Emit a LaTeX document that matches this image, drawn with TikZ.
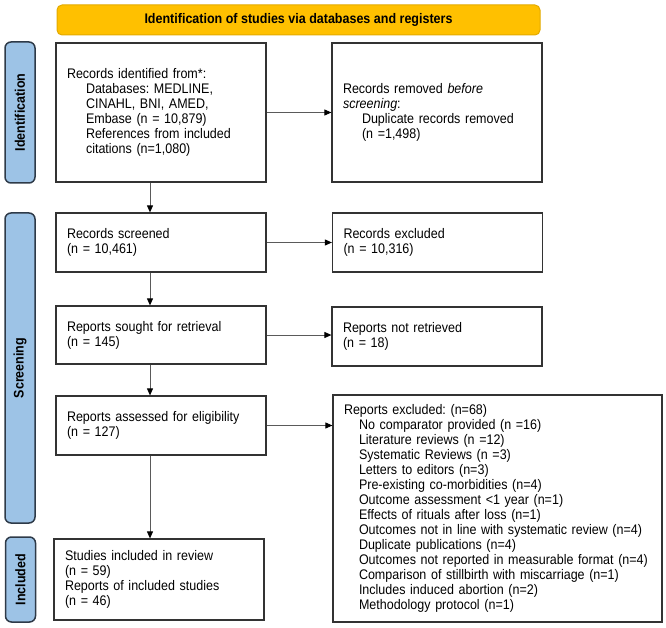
\documentclass[tikz,border=0pt]{standalone}
\usepackage{fontspec}
\setmainfont{Liberation Sans}[FakeStretch=0.9]
\usepackage{graphicx}
\usetikzlibrary{arrows.meta}
\definecolor{hdrfill}{HTML}{FFC000}
\definecolor{hdrline}{HTML}{E3AA00}
\definecolor{barfill}{HTML}{9DC3E6}
\definecolor{barline}{HTML}{2E3A48}
\definecolor{boxline}{HTML}{333333}
\definecolor{arrline}{HTML}{5A5A5A}
\newcommand{\ind}{\hspace*{19pt}}
\newcommand{\indx}{\hspace*{15pt}}
\frenchspacing

\begin{document}
\begin{tikzpicture}[x=1pt,y=-1pt,
	every node/.style={font=\fontsize{13.9}{15}\selectfont},
	box/.style={draw=boxline, line width=1.2pt, align=left, inner xsep=11pt, inner ysep=0pt, text width=188pt},
	stage/.style={draw=barline, fill=barfill, line width=1.5pt, rounded corners=6pt, minimum width=30pt, inner sep=0pt, font=\bfseries\fontsize{13.9}{15}\selectfont},
	arr/.style={draw=arrline, line width=0.9pt, -{Triangle[length=7pt,width=6pt,black]}}]
	\useasboundingbox (0,0) rectangle (666,628);
	% header
	\node [draw=hdrline, fill=hdrfill, line width=1pt, rounded corners=5pt, minimum width=483pt, minimum height=30pt, font=\bfseries\fontsize{13.9}{15}\selectfont] (hdr) at (298.5,20) {Identification of studies via databases and registers};
	% stages
	\node [stage, minimum height=141pt] (idbar) at (20,112.5) {\rotatebox{90}{Identification}};
	\node [stage, minimum height=310pt] (scbar) at (20,368) {\rotatebox{90}{Screening}};
	\node [stage, minimum height=85pt] (inbar) at (20.5,579.5) {\rotatebox{90}{Included}};
	% left column
	\node [box, minimum height=139pt] (ident) at (161,112.5) {Records identified from*:\\
		\ind Databases: MEDLINE,\\ \ind CINAHL, BNI, AMED,\\ \ind Embase (n = 10,879)\\
		\ind References from included\\ \ind citations (n=1,080)};
	\node [box, minimum height=59pt] (screened) at (161,242.5) {Records screened\\ (n = 10,461)};
	\node [box, minimum height=58pt] (sought) at (161,335) {Reports sought for retrieval\\ (n = 145)};
	\node [box, minimum height=59pt] (assessed) at (161,425.5) {Reports assessed for eligibility\\ (n = 127)};
	\node [box, minimum height=81pt] (included) at (159,579.5) {Studies included in review\\ (n = 59)\\
		Reports of included studies\\ (n = 46)};
	% right column
	\node [box, minimum height=139pt] (removed) at (437,112.5) {Records removed \textit{before}\\ \textit{screening}:\\
		\ind Duplicate records removed\\ \ind (n =1,498)};
	\node [box, minimum height=59pt] (excluded) at (437.5,242.5) {Records excluded\\ (n = 10,316)};
	\node [box, minimum height=59pt] (notretr) at (437,336.5) {Reports not retrieved\\ (n = 18)};
	\node [box, minimum height=227pt, text width=307pt] (reasons) at (497.5,508.5) {Reports excluded: (n=68)\\
		\indx No comparator provided (n =16)\\
		\indx Literature reviews (n =12)\\
		\indx Systematic Reviews (n =3)\\
		\indx Letters to editors (n=3)\\
		\indx Pre-existing co-morbidities (n=4)\\
		\indx Outcome assessment <1 year (n=1)\\
		\indx Effects of rituals after loss (n=1)\\
		\indx Outcomes not in line with systematic review (n=4)\\
		\indx Duplicate publications (n=4)\\
		\indx Outcomes not reported in measurable format (n=4)\\
		\indx Comparison of stillbirth with miscarriage (n=1)\\
		\indx Includes induced abortion (n=2)\\
		\indx Methodology protocol (n=1)};
	% arrows
	\coordinate (col) at (150,0);
	\draw [arr] (ident.south -| col) -- (screened.north -| col);
	\draw [arr] (screened.south -| col) -- (sought.north -| col);
	\draw [arr] (sought.south -| col) -- (assessed.north -| col);
	\draw [arr] (assessed.south -| col) -- (included.north -| col);
	\draw [arr] (ident.east) -- (ident.east -| removed.west);
	\draw [arr] (screened.east) -- (screened.east -| excluded.west);
	\draw [arr] (sought.east) -- (sought.east -| notretr.west);
	\draw [arr] (assessed.east) -- (assessed.east -| reasons.west);
\end{tikzpicture}
\end{document}
